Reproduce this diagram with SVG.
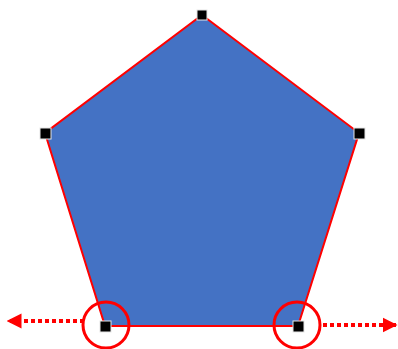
<svg xmlns="http://www.w3.org/2000/svg" width="398" height="349" viewBox="0 0 398 349">
<style>
.h{fill:#000;stroke:#e6e6e6;stroke-width:1}
.c{fill:none;stroke:#ff0000;stroke-width:3}
.d{fill:none;stroke:#ff0000;stroke-width:4;stroke-dasharray:4 3}
</style>
<defs>
<marker id="ah" viewBox="0 0 10 10" refX="9" refY="5" markerWidth="15" markerHeight="16" markerUnits="userSpaceOnUse" orient="auto">
<path d="M0,0 L10,5 L0,10 z" fill="#ff0000"/>
</marker>
</defs>
<g id="pentagon">
<polygon points="202,15 359,133 298,326 105,326 45,133" fill="#4472c4" stroke="#ff0000" stroke-width="2"/>
</g>
<g id="handles">
<rect class="h" x="197" y="10" width="10" height="10"/>
<rect class="h" x="40" y="128" width="11" height="11"/>
<rect class="h" x="354" y="128" width="11" height="11"/>
<rect class="h" x="100" y="321" width="11" height="11"/>
<rect class="h" x="293" y="321" width="11" height="11"/>
</g>
<g id="circles">
<circle class="c" cx="106" cy="325" r="23"/>
<circle class="c" cx="297" cy="325" r="23"/>
</g>
<g id="connectors">
<line class="d" x1="84" y1="321" x2="8" y2="321" marker-end="url(#ah)"/>
<line class="d" x1="323" y1="325" x2="396" y2="325" marker-end="url(#ah)"/>
</g>
</svg>
